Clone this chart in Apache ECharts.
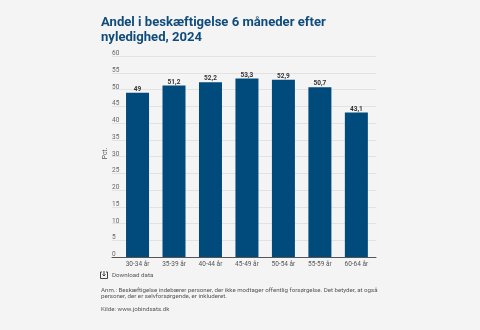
<!DOCTYPE html>
<html>
<head>
    <meta charset="utf-8">
    <title>Andel i beskæftigelse</title>
    <script src="https://cdn.jsdelivr.net/npm/echarts@6/dist/echarts.min.js"></script>
    <style>
        html, body { margin: 0; padding: 0; background: #f4f4f4; }
        #chart { width: 480px; height: 330px; }
    </style>
</head>
<body>
    <div id="chart"></div>
    <script>
        const categories = ['30-34 år', '35-39 år', '40-44 år', '45-49 år', '50-54 år', '55-59 år', '60-64 år'];
        const values = [49, 51.2, 52.2, 53.3, 52.9, 50.7, 43.1];
        const titleText = 'Andel i beskæftigelse 6 måneder efter\nnyledighed, 2024';
        const noteText = 'Anm.: Beskæftigelse indebærer personer, der ikke modtager offentlig forsørgelse. Det betyder, at også\npersoner, der er selvforsørgende, er inkluderet.';
        const sourceText = 'Kilde: www.jobindsats.dk';

        const font = 'Roboto, sans-serif';
        const chart = echarts.init(document.getElementById('chart'), null, { renderer: 'canvas' });

        chart.setOption({
            animation: false,
            backgroundColor: '#f4f4f4',
            textStyle: { fontFamily: font },
            title: {
                text: titleText,
                left: 101,
                top: 15,
                padding: 0,
                textStyle: { color: '#0f4c7c', fontSize: 13.1, fontWeight: 700, lineHeight: 15, fontFamily: font }
            },
            // first grid holds the long gridlines and axis line, second the bars
            grid: [
                { left: 112, right: 104, top: 56, bottom: 73 },
                { left: 119.3, right: 105.4, top: 56, bottom: 73 }
            ],
            xAxis: [
                {
                    type: 'category',
                    gridIndex: 0,
                    data: [''],
                    axisTick: { show: false },
                    axisLabel: { show: false },
                    axisLine: { lineStyle: { color: '#555555', width: 1 } }
                },
                {
                    type: 'category',
                    gridIndex: 1,
                    data: categories,
                    axisTick: { show: false },
                    axisLine: { show: false },
                    axisLabel: { color: '#555555', fontSize: 6.5, margin: 4, interval: 0 }
                }
            ],
            yAxis: [
                {
                    type: 'value',
                    gridIndex: 0,
                    min: 0,
                    max: 60,
                    interval: 5,
                    name: 'Pct.',
                    nameLocation: 'middle',
                    nameGap: 3,
                    nameMoveOverlap: false,
                    nameTextStyle: { color: '#555555', fontSize: 6.5, padding: [0, 0, 0, 6] },
                    axisLine: { show: false },
                    axisTick: { show: false },
                    axisLabel: { inside: true, color: '#666666', fontSize: 6.5, margin: 0, verticalAlign: 'bottom', lineHeight: 5 },
                    splitLine: { lineStyle: { color: '#e2e2e2', width: 1 } }
                },
                {
                    type: 'value',
                    gridIndex: 1,
                    min: 0,
                    max: 60,
                    interval: 5,
                    show: false
                }
            ],
            series: [{
                type: 'bar',
                xAxisIndex: 1,
                yAxisIndex: 1,
                data: values,
                barWidth: 23,
                itemStyle: { color: '#004a7c' },
                label: {
                    show: true,
                    position: 'top',
                    distance: 0,
                    color: '#333333',
                    fontSize: 6.5,
                    fontWeight: 700,
                    formatter: p => String(p.value).replace('.', ',')
                }
            }],
            graphic: [
                { type: 'polyline', shape: { points: [[102, 272], [100.5, 272], [100.5, 278.5], [107.5, 278.5], [107.5, 272], [106, 272]] }, style: { fill: 'none', stroke: '#444444', lineWidth: 1 } },
                { type: 'line', shape: { x1: 104, y1: 271, x2: 104, y2: 276 }, style: { stroke: '#444444', lineWidth: 1 } },
                { type: 'polyline', shape: { points: [[102.5, 274.5], [104, 276], [105.5, 274.5]] }, style: { fill: 'none', stroke: '#444444', lineWidth: 1 } },
                { type: 'text', x: 112, y: 272, style: { text: 'Download data', fill: '#555555', font: '6.2px ' + font } },
                { type: 'text', x: 101, y: 287, style: { text: noteText, fill: '#555555', font: '6.15px ' + font, lineHeight: 6 } },
                { type: 'text', x: 101, y: 306, style: { text: sourceText, fill: '#555555', font: '6.15px ' + font } }
            ]
        });
    </script>
</body>
</html>
